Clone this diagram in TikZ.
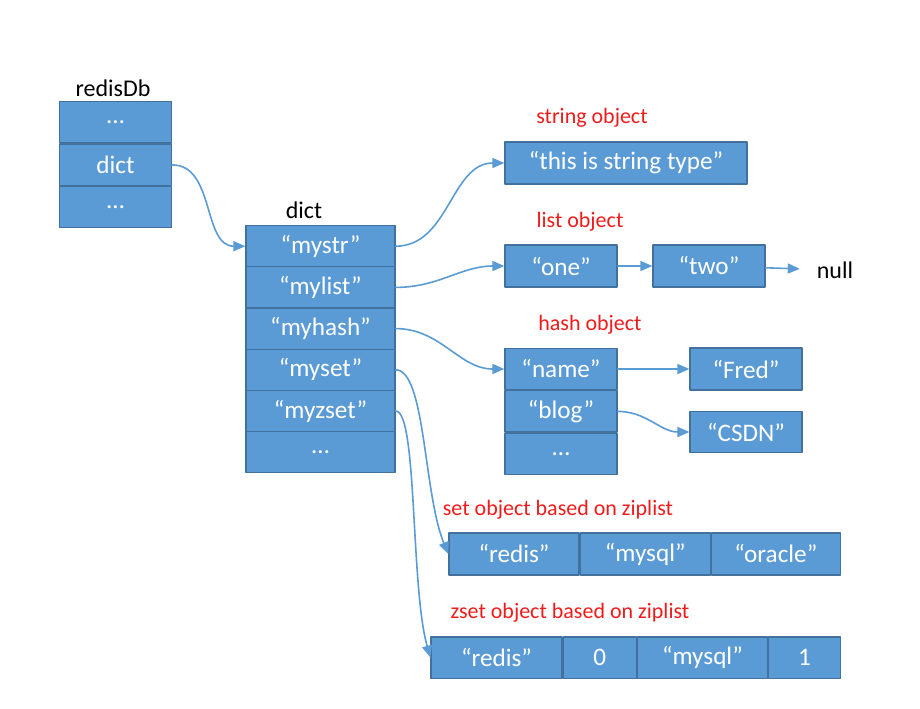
\documentclass[tikz,border=0pt]{standalone}
\usepackage{fontspec}
\setmainfont{Carlito}
\usetikzlibrary{positioning,arrows.meta}
\definecolor{cellblue}{HTML}{5B9BD5}
\definecolor{cellline}{HTML}{41719C}
\definecolor{objred}{HTML}{F21B1B}
\begin{document}
\begin{tikzpicture}[x=0.5pt,y=0.5pt,line join=round,line cap=round,>={Triangle[length=6pt,width=5pt]},font=\fontsize{12}{14}\selectfont,
cell/.style={draw=cellline,line width=0.6pt,fill=cellblue,text=white,inner sep=0pt,minimum width=56pt,minimum height=20.6pt,font=\fontsize{12.6}{14}\selectfont},
dictcell/.style={cell,minimum width=74.5pt},
objlabel/.style={text=objred,font=\fontsize{11}{13}\selectfont},
link/.style={->,draw=cellblue,line width=0.8pt}]
\useasboundingbox (0,0) rectangle (920,708);
% redisDb
\node (dblabel) at (113,620) {redisDb};
\node[cell] (db1) at (115.5,585.5) {\dots};
\node[cell,below=0pt of db1] (db2) {dict};
\node[cell,below=0pt of db2] (db3) {\dots};
% dict
\node (dictlabel) at (304,498) {dict};
\foreach \t [count=\i] in {“mystr”,“mylist”,“myhash”,“myset”,“myzset”,\dots}
  \node[dictcell] (d\i) at (320.5,{503-41.2*\i}) {\t};
% string
\node[objlabel] (strlabel) at (592,590) {string object};
\node[cell,minimum width=121pt,minimum height=21pt] (str) at (626,545) {“this is string type”};
% list
\node[objlabel] (listlabel) at (580,486) {list object};
\node[cell,minimum height=21pt] (one) at (561,442) {“one”};
\node[cell,minimum height=21pt] (two) at (709,442) {“two”};
\node (null) at (835,438) {null};
% hash
\node[objlabel] (hashlabel) at (590,383) {hash object};
\node[cell] (h1) at (561,339) {“name”};
\node[cell,below=0pt of h1] (h2) {“blog”};
\node[cell,below=0pt of h2] (h3) {\dots};
\node[cell,minimum height=21pt] (fred) at (746,339) {“Fred”};
\node[cell] (csdn) at (746,276) {“CSDN”};
% set
\node[objlabel] (setlabel) at (558,198) {set object based on ziplist};
\node[cell,minimum width=65pt,minimum height=21pt] (s1) at (514,154) {“redis”};
\node[cell,minimum width=65pt,minimum height=21pt,right=0pt of s1] (s2) {“mysql”};
\node[cell,minimum width=64.5pt,minimum height=21pt,right=0pt of s2] (s3) {“oracle”};
% zset
\node[objlabel] (zsetlabel) at (570,95) {zset object based on ziplist};
\node[cell,minimum width=65.5pt] (z1) at (496.5,50.5) {“redis”};
\node[cell,minimum width=36.5pt,right=0pt of z1] (z2) {0};
\node[cell,minimum width=65pt,right=0pt of z2] (z3) {“mysql”};
\node[cell,minimum width=36pt,right=0pt of z3] (z4) {1};
% links
\draw[link] (db2.east) to[out=0,in=180] (d1.west);
\draw[link] (d1.east) to[out=0,in=180] (str.west);
\draw[link] (d2.east) to[out=0,in=180] (one.west);
\draw[link] (one) -- (two);
\draw[link,shorten >=5pt] (two) -- (null);
\draw[link] (d3.east) to[out=0,in=180] (h1.west);
\draw[link] (h1) -- (fred);
\draw[link] (h2.east) to[out=0,in=180] (csdn.west);
\draw[link] (d4.east) .. controls +(30,0) and +(-25,60) .. (s1.west);
\draw[link] (d5.east) .. controls +(22,0) and +(-20,70) .. (z1.west);
\end{tikzpicture}
\end{document}
